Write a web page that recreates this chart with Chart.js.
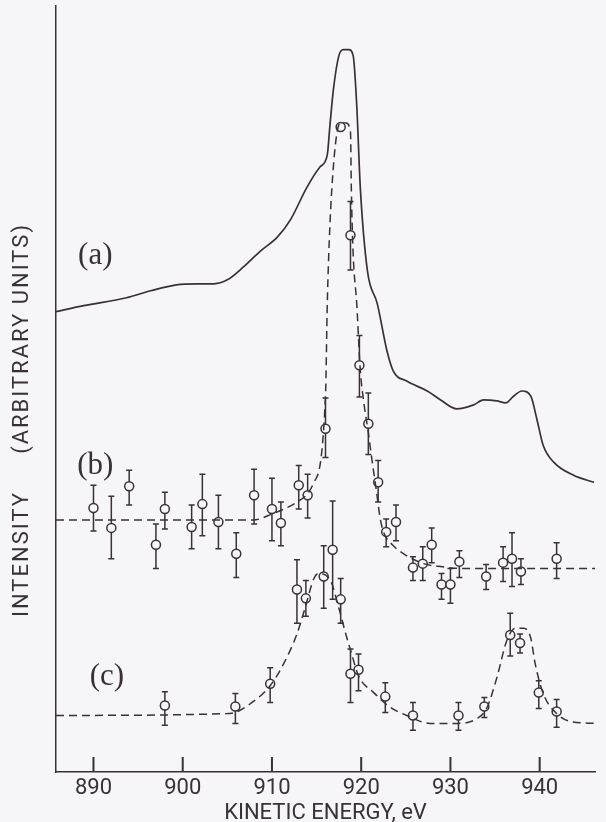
<!DOCTYPE html>
<html>
<head>
<meta charset="utf-8">
<script src="https://cdn.jsdelivr.net/npm/chart.js@4"></script>
<style>
  body { margin: 0; background: #f6f5f8; }
  #wrap { width: 606px; height: 822px; }
</style>
</head>
<body>
<div id="wrap"><canvas id="myChart"></canvas></div>
<script>
const ctx = document.getElementById('myChart');

const ink = '#3a3136';
const paper = '#f6f5f8';

// x axis
const xTicks = [890, 900, 910, 920, 930, 940];

// (a) measured spectrum, solid line
const energyA = [885.8, 888.9, 893.7, 896.4, 899.3, 901.6, 903.5, 905.0, 906.8, 908.7, 910.6, 912.1, 913.9, 915.4, 916.2, 916.5, 916.9, 917.5, 918.0, 918.6, 919.1, 919.5, 919.9, 920.7, 921.8, 922.9, 923.6, 925.1, 927.4, 928.9, 930.7, 932.6, 933.7, 935.2, 936.2, 937.1, 938.0, 939.0, 939.7, 940.4, 941.6, 943.8, 946.1];
const intensityA = [464, 470, 478, 485, 491, 492, 492, 496, 509, 525, 539, 557, 589, 610, 622, 652, 689, 722, 728, 728, 722, 672, 589, 505, 472, 424, 404, 394, 384, 375, 366, 370, 375, 374, 372, 379, 384, 379, 355, 329, 312, 299, 292];

// (b) data points with error bars
const energyB = [890, 892, 894, 897, 898, 901, 902.2, 904, 906, 908, 910, 911, 913, 914, 916, 917.7, 918.8, 919.8, 920.8, 921.9, 922.8, 923.9, 925.8, 926.9, 927.9, 929, 930, 931, 934, 935.9, 936.9, 937.9, 941.9];
const intensityB = [266, 246, 288, 229, 265, 247, 270, 252, 220, 279, 265, 251, 289, 279, 346, 650, 541, 410, 351, 292, 242, 252, 206, 210, 229, 189, 189, 212, 197, 211, 215, 202, 215];
const lowB = [243, 215, 269, 205, 245, 225, 238, 225, 196, 250, 233, 228, 265, 256, 317, 650, 506, 378, 320, 272, 227, 233, 193, 193, 211, 174, 170, 196, 184, 192, 187, 189, 195];
const highB = [289, 278, 304, 250, 282, 269, 300, 279, 241, 305, 296, 272, 309, 300, 377, 650, 575, 440, 382, 314, 255, 269, 217, 227, 246, 200, 205, 223, 209, 227, 241, 215, 231];

// (b) fitted curve, dashed
const fitEnergyB = [885.8, 907.9, 910.0, 912.8, 914.6, 916.0, 916.2, 916.5, 916.9, 917.3, 917.7, 918.3, 918.8, 918.9, 919.1, 919.5, 919.9, 920.3, 920.8, 921.2, 921.8, 922.1, 922.5, 923.5, 925.1, 927.0, 928.9, 931.5, 946.2];
const fitIntensityB = [254, 254, 260, 272, 290, 379, 472, 552, 612, 645, 655, 654, 645, 585, 522, 472, 405, 372, 342, 315, 277, 257, 242, 229, 218, 210, 207, 205, 205];

// (c) data points with error bars
const energyC = [898, 905.9, 909.8, 912.8, 913.8, 915.8, 916.8, 917.7, 918.8, 919.7, 922.7, 925.8, 930.9, 933.8, 936.7, 937.8, 939.9, 941.9];
const intensityC = [67, 66, 89, 184, 175, 197, 224, 174, 99, 103, 76, 57, 57, 66, 138, 130, 80, 61];
const lowC = [47, 49, 70, 150, 157, 165, 174, 150, 70, 82, 60, 42, 42, 55, 117, 120, 64, 45];
const highC = [81, 79, 105, 214, 193, 228, 273, 195, 124, 119, 90, 70, 70, 75, 160, 139, 92, 73];

// (c) fitted curve, dashed
const fitEnergyC = [885.8, 905.3, 907.6, 909.8, 911.3, 912.8, 913.7, 914.7, 915.2, 916.5, 917.5, 918.4, 918.8, 919.7, 921.4, 923.3, 925.1, 927.7, 930.7, 933.0, 934.1, 935.2, 936.3, 937.3, 938.2, 939.0, 939.5, 940.4, 941.9, 943.4, 946.2];
const fitIntensityC = [57, 59, 69, 87, 109, 139, 165, 195, 200, 194, 165, 135, 123, 97, 80, 65, 57, 49, 49, 54, 65, 95, 132, 145, 145, 135, 109, 79, 59, 51, 49];

const panelLabels = ['(a)', '(b)', '(c)'];
const yTitle = 'INTENSITY     (ARBITRARY UNITS)';
const xTitle = 'KINETIC ENERGY, eV';

function pairs(xs, ys) {
    return xs.map((x, i) => ({x: x, y: ys[i]}));
}

const errorBars = {
    id: 'errorBars',
    beforeDatasetsDraw(chart) {
        const c = chart.ctx;
        const xs = chart.scales.x, ys = chart.scales.y;
        c.save();
        c.setLineDash([]);
        c.strokeStyle = ink;
        c.lineWidth = 1.5;
        chart.data.datasets.forEach((ds) => {
            if (!ds.errLow) return;
            ds.data.forEach((p, i) => {
                const lo = ds.errLow[i], hi = ds.errHigh[i];
                if (lo === hi) return;
                const px = xs.getPixelForValue(p.x);
                const y1 = ys.getPixelForValue(lo), y2 = ys.getPixelForValue(hi);
                c.beginPath();
                c.moveTo(px, y1); c.lineTo(px, y2);
                c.moveTo(px - 3, y1); c.lineTo(px + 3, y1);
                c.moveTo(px - 3, y2); c.lineTo(px + 3, y2);
                c.stroke();
            });
        });
        c.restore();
    }
};

const extras = {
    id: 'extras',
    afterDraw(chart) {
        const c = chart.ctx;
        const xs = chart.scales.x, ys = chart.scales.y;

        // short inward tick marks on the energy axis
        c.save();
        c.fillStyle = ink;
        const yBase = chart.chartArea.bottom;
        xTicks.forEach((v) => {
            const px = xs.getPixelForValue(v);
            c.fillRect(px - 1, yBase - 15, 2, 15);
        });
        c.restore();

        // y title
        c.save();
        c.fillStyle = ink;
        c.font = '22px Roboto';
        c.letterSpacing = '2px';
        c.textAlign = 'center';
        c.textBaseline = 'middle';
        c.translate(22, 420);
        c.rotate(-Math.PI / 2);
        c.fillText(yTitle, 0, 0);
        c.restore();

        // panel labels
        c.save();
        c.fillStyle = ink;
        c.font = '31px "Liberation Serif"';
        c.textAlign = 'center';
        c.textBaseline = 'middle';
        const spots = [[890.2, 520], [890.2, 309], [891.5, 96]];
        panelLabels.forEach((t, i) => {
            c.fillText(t, xs.getPixelForValue(spots[i][0]), ys.getPixelForValue(spots[i][1]));
        });
        c.restore();
    }
};

new Chart(ctx, {
    type: 'scatter',
    data: {
        datasets: [
            {
                data: pairs(energyA, intensityA),
                showLine: true,
                borderColor: ink,
                borderWidth: 1.7,
                pointRadius: 0,
                cubicInterpolationMode: 'monotone'
            },
            {
                data: pairs(fitEnergyB, fitIntensityB),
                showLine: true,
                borderColor: ink,
                borderWidth: 1.5,
                borderDash: [8, 5],
                pointRadius: 0,
                cubicInterpolationMode: 'monotone'
            },
            {
                data: pairs(fitEnergyC, fitIntensityC),
                showLine: true,
                borderColor: ink,
                borderWidth: 1.5,
                borderDash: [8, 5],
                pointRadius: 0,
                cubicInterpolationMode: 'monotone'
            },
            {
                data: pairs(energyB, intensityB),
                errLow: lowB,
                errHigh: highB,
                pointRadius: 4.5,
                pointBackgroundColor: paper,
                pointBorderColor: ink,
                pointBorderWidth: 1.5
            },
            {
                data: pairs(energyC, intensityC),
                errLow: lowC,
                errHigh: highC,
                pointRadius: 4.5,
                pointBackgroundColor: paper,
                pointBorderColor: ink,
                pointBorderWidth: 1.5
            }
        ]
    },
    options: {
        responsive: true,
        maintainAspectRatio: false,
        animation: false,
        layout: { padding: { top: 0, right: 11, left: 0, bottom: 0 } },
        plugins: {
            legend: { display: false },
            tooltip: { enabled: false }
        },
        scales: {
            x: {
                type: 'linear',
                min: 885.8,
                max: 946.2,
                afterBuildTicks: (scale) => { scale.ticks = xTicks.map((v) => ({value: v})); },
                afterFit: (scale) => { scale.height = 50; },
                grid: { display: false },
                border: { display: true, color: ink, width: 1.5 },
                ticks: {
                    color: ink,
                    font: { family: 'Roboto', size: 22 },
                    padding: -5,
                    maxRotation: 0
                },
                title: {
                    display: true,
                    text: xTitle,
                    color: ink,
                    font: { family: 'Roboto', size: 22 },
                    padding: { top: 0, bottom: -5 }
                }
            },
            y: {
                min: 0,
                max: 772,
                afterFit: (scale) => { scale.width = 56; },
                grid: { display: false },
                border: { display: true, color: ink, width: 1.5 },
                ticks: { display: false }
            }
        }
    },
    plugins: [errorBars, extras]
});
</script>
</body>
</html>
